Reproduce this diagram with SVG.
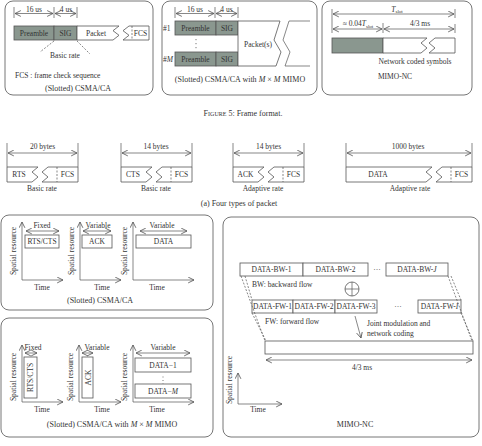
<svg xmlns="http://www.w3.org/2000/svg" width="482" height="446" viewBox="0 0 482 446">
<defs>
<marker id="ah" markerUnits="userSpaceOnUse" markerWidth="7" markerHeight="7" refX="5" refY="2.5" orient="auto-start-reverse" viewBox="0 0 6 5">
<path d="M0,0 L5,2.5 L0,5" fill="none" stroke="#555" stroke-width="0.7"/>
</marker>
</defs>
<style>
text{font-family:"Liberation Serif","Times New Roman",serif;font-size:7.5px;fill:#333}
.c{text-anchor:middle}
.cap{font-size:8px}
.i{font-style:italic}
.panel{fill:#fff;stroke:#666;stroke-width:0.9}
.bx{fill:#fff;stroke:#555;stroke-width:0.8}
.gr{fill:#8a978f;stroke:#555;stroke-width:0.8}
.ln{fill:none;stroke:#555;stroke-width:0.7}
.ar{fill:none;stroke:#555;stroke-width:0.7;marker-end:url(#ah)}
.da{fill:none;stroke:#555;stroke-width:0.7;marker-start:url(#ah);marker-end:url(#ah)}
.dash{fill:none;stroke:#555;stroke-width:0.7;stroke-dasharray:2,1.5}
</style>
<rect width="482" height="446" fill="#fff"/>

<!-- Top panel 1 -->
<g id="panel-csma">
<rect class="panel" x="5" y="1" width="148" height="94" rx="8"/>
<g class="ln"><path d="M14,7V18M54,7V18M77,7V18"/></g>
<path class="da" d="M15,13.5H53"/><path class="da" d="M55,13.5H76"/>
<text class="c" x="34" y="12">16 us</text><text class="c" x="66" y="12">4 us</text>
<rect class="gr" x="14" y="26" width="40" height="14"/>
<rect class="gr" x="54" y="26" width="23" height="14"/>
<polygon class="bx" points="119,26 77,26 77,40 113,40 119,35.3 113,30.7"/>
<polygon class="bx" points="129,26 149,26 149,40 123,40 129,35.3 123,30.7"/>
<path class="dash" d="M132,26V40"/>
<text class="c" x="34" y="35.5">Preamble</text><text class="c" x="65.5" y="35.5">SIG</text>
<text class="c" x="96" y="35.5">Packet</text><text class="c" x="140.5" y="35.5">FCS</text>
<path class="dash" d="M54,41L40,52M77,41L90,54"/>
<text class="c" x="65" y="58">Basic rate</text>
<text x="15" y="78" font-size="9">FCS : frame check sequence</text>
<text class="c cap" x="78" y="90.5">(Slotted) CSMA/CA</text>
</g>

<!-- Top panel 2 -->
<g id="panel-mimo">
<rect class="panel" x="162" y="1" width="155" height="94" rx="8"/>
<g class="ln"><path d="M175,7V18M215,7V18M238,7V18"/></g>
<path class="da" d="M176,13.5H214"/><path class="da" d="M216,13.5H237"/>
<text class="c" x="195" y="12">16 us</text><text class="c" x="226.5" y="12">4 us</text>
<text x="163" y="31">#1</text>
<rect class="gr" x="175" y="21" width="41" height="14"/><rect class="gr" x="216" y="21" width="22" height="14"/>
<text class="c" x="195.5" y="30.5">Preamble</text><text class="c" x="227" y="30.5">SIG</text>
<path d="M196,39v1.2M196,43v1.2M196,47v1.2" stroke="#555" stroke-width="0.8"/>
<text x="163" y="62">#<tspan class="i">M</tspan></text>
<rect class="gr" x="175" y="52" width="41" height="14"/><rect class="gr" x="216" y="52" width="22" height="14"/>
<text class="c" x="195.5" y="61.5">Preamble</text><text class="c" x="227" y="61.5">SIG</text>
<polygon class="bx" points="280,21 238,21 238,66 276,66 281,52 274,40"/>
<path class="ln" d="M310,21H289L283,40L290,52L285,66H310"/>
<text class="c" x="258" y="47">Packet(s)</text>
<text class="c cap" x="240" y="82">(Slotted) CSMA/CA with <tspan class="i">M</tspan> × <tspan class="i">M</tspan> MIMO</text>
</g>

<!-- Top panel 3 -->
<g id="panel-mimonc-top">
<rect class="panel" x="322" y="1" width="150" height="94" rx="8"/>
<g class="ln"><path d="M332,9V33M383,23V33M455,9V18M455,24V33"/></g>
<path class="da" d="M333,14H454"/>
<path class="da" d="M333,29H382"/><path class="da" d="M384,29H454"/>
<text class="c" x="397" y="11.5"><tspan class="i">T</tspan><tspan font-size="5" dy="1.5">slot</tspan></text>
<text class="c" x="358" y="26">≈ 0.04<tspan class="i">T</tspan><tspan font-size="5" dy="1.5">slot</tspan></text>
<text class="c" x="420" y="26">4/3 ms</text>
<rect class="gr" x="332" y="38" width="51" height="15"/>
<polygon class="bx" points="427,38 383,38 383,53 421,53 427,48 421,43"/>
<polygon class="bx" points="435,38 455,38 455,53 429,53 435,48 429,43"/>
<text class="c" x="415" y="64">Network coded symbols</text>
<text class="c" x="395" y="78.5">MIMO-NC</text>
</g>

<text class="c cap" x="243" y="115.5">F<tspan font-size="6">IGURE</tspan> 5: Frame format.</text>

<!-- Packet types -->
<g id="pkt-rts">
<path class="ln" d="M7,143V167M78,143V167"/><path class="da" d="M8,153H77"/>
<text class="c" x="42.5" y="149">20 bytes</text>
<polygon class="bx" points="38,167 7,167 7,182 32,182 38,177 32,172"/>
<polygon class="bx" points="48,167 78,167 78,182 42,182 48,177 42,172"/>
<path class="dash" d="M57,167V182"/>
<text class="c" x="19" y="177">RTS</text><text class="c" x="67.5" y="177">FCS</text>
<text class="c" x="42" y="190.5">Basic rate</text>
</g>
<g id="pkt-cts">
<path class="ln" d="M121,143V167M192,143V167"/><path class="da" d="M122,153H191"/>
<text class="c" x="156" y="149">14 bytes</text>
<polygon class="bx" points="152,167 121,167 121,182 146,182 152,177 146,172"/>
<polygon class="bx" points="162,167 192,167 192,182 156,182 162,177 156,172"/>
<path class="dash" d="M171,167V182"/>
<text class="c" x="133" y="177">CTS</text><text class="c" x="181.5" y="177">FCS</text>
<text class="c" x="156" y="190.5">Basic rate</text>
</g>
<g id="pkt-ack">
<path class="ln" d="M233,143V167M304,143V167"/><path class="da" d="M234,153H303"/>
<text class="c" x="268.5" y="149">14 bytes</text>
<polygon class="bx" points="264,167 233,167 233,182 258,182 264,177 258,172"/>
<polygon class="bx" points="274,167 304,167 304,182 268,182 274,177 268,172"/>
<path class="dash" d="M283,167V182"/>
<text class="c" x="245.5" y="177">ACK</text><text class="c" x="293.5" y="177">FCS</text>
<text class="c" x="263" y="190.5">Adaptive rate</text>
</g>
<g id="pkt-data">
<path class="ln" d="M346,143V167M472,143V167"/><path class="da" d="M347,153H471"/>
<text class="c" x="408" y="149">1000 bytes</text>
<polygon class="bx" points="432,167 346,167 346,182 426,182 432,177 426,172"/>
<polygon class="bx" points="442,167 472,167 472,182 436,182 442,177 436,172"/>
<path class="dash" d="M451,167V182"/>
<text class="c" x="378" y="177">DATA</text><text class="c" x="461.5" y="177">FCS</text>
<text class="c" x="410" y="190.5">Adaptive rate</text>
</g>

<text class="c cap" x="239" y="205.5">(a)  Four types of packet</text>

<!-- Bottom-left panel 1 -->
<g id="res-csma">
<rect class="panel" x="1" y="215" width="212" height="95" rx="8"/>
<path class="ar" d="M22,280V222"/><path class="ar" d="M22,280H63"/>
<path class="ar" d="M80,280V222"/><path class="ar" d="M80,280H121"/>
<path class="ar" d="M133,280V222"/><path class="ar" d="M133,280H194"/>
<text class="c" transform="translate(16,251) rotate(-90)">Spatial resource</text>
<text class="c" transform="translate(74,251) rotate(-90)">Spatial resource</text>
<text class="c" transform="translate(127,251) rotate(-90)">Spatial resource</text>
<text class="c" x="42" y="227.5">Fixed</text><path class="da" d="M26,231H59"/>
<rect class="bx" x="25" y="235" width="34" height="13"/><text class="c" x="42" y="244">RTS/CTS</text>
<text class="c" x="98" y="227.5">Variable</text><path class="da" d="M83,231H111"/>
<rect class="bx" x="82" y="235" width="30" height="13"/><text class="c" x="97" y="244">ACK</text>
<text class="c" x="162" y="227.5">Variable</text><path class="da" d="M140,231H187"/>
<rect class="bx" x="136" y="235" width="55" height="13"/><text class="c" x="163.5" y="244">DATA</text>
<text class="c" x="42" y="290">Time</text><text class="c" x="102" y="290">Time</text><text class="c" x="157" y="290">Time</text>
<text class="c cap" x="100" y="302.5">(Slotted) CSMA/CA</text>
</g>

<!-- Bottom-left panel 2 -->
<g id="res-mimo">
<rect class="panel" x="1" y="318" width="212" height="119" rx="8"/>
<path class="ar" d="M22,402V345"/><path class="ar" d="M22,402H63"/>
<path class="ar" d="M79,402V345"/><path class="ar" d="M79,402H121"/>
<path class="ar" d="M133,402V345"/><path class="ar" d="M133,402H194"/>
<text class="c" transform="translate(16,377) rotate(-90)">Spatial resource</text>
<text class="c" transform="translate(73,377) rotate(-90)">Spatial resource</text>
<text class="c" transform="translate(127,377) rotate(-90)">Spatial resource</text>
<text class="c" x="33" y="349.5">Fixed</text><path class="da" d="M25,353H37"/>
<rect class="bx" x="24" y="357" width="13" height="41"/>
<text class="c" transform="translate(33,377.5) rotate(-90)">RTS/CTS</text>
<text class="c" x="97" y="349.5">Variable</text><path class="da" d="M82,353H93"/>
<rect class="bx" x="82" y="357" width="11" height="41"/>
<text class="c" transform="translate(90.5,377.5) rotate(-90)">ACK</text>
<text class="c" x="163" y="349.5">Variable</text><path class="da" d="M136,353H190"/>
<rect class="bx" x="135" y="358" width="56" height="14"/><text class="c" x="163" y="367.5">DATA−1</text>
<path d="M163,376.5v1M163,380v1M163,383.5v1" stroke="#555" stroke-width="0.8"/>
<rect class="bx" x="135" y="384" width="56" height="14"/><text class="c" x="163" y="393.5">DATA−<tspan class="i">M</tspan></text>
<text class="c" x="42" y="412">Time</text><text class="c" x="102" y="412">Time</text><text class="c" x="157" y="412">Time</text>
<text class="c cap" x="112" y="426.5">(Slotted) CSMA/CA with <tspan class="i">M</tspan> × <tspan class="i">M</tspan> MIMO</text>
</g>

<!-- MIMO-NC panel -->
<g id="res-mimonc">
<rect class="panel" x="223" y="217" width="256" height="220" rx="8"/>
<rect class="bx" x="240" y="263" width="63" height="13"/><text class="c" x="271.5" y="272">DATA-BW-1</text>
<rect class="bx" x="303" y="263" width="65" height="13"/><text class="c" x="335.5" y="272">DATA-BW-2</text>
<text class="c" x="377" y="272">···</text>
<rect class="bx" x="386" y="263" width="62" height="13"/><text class="c" x="417" y="272">DATA-BW-<tspan class="i">J</tspan></text>
<text x="252" y="287">BW: backward flow</text>
<circle cx="352" cy="289" r="7" class="bx"/><path class="ln" d="M345,289H359M352,282V296"/>
<rect class="bx" x="252" y="300" width="41" height="13"/><text class="c" x="272.5" y="309">DATA-FW-1</text>
<rect class="bx" x="293" y="300" width="42" height="13"/><text class="c" x="314" y="309">DATA-FW-2</text>
<rect class="bx" x="335" y="300" width="42" height="13"/><text class="c" x="356" y="309">DATA-FW-3</text>
<text class="c" x="398" y="309">···</text>
<rect class="bx" x="418" y="300" width="43" height="13"/><text class="c" x="439.5" y="309">DATA-FW-<tspan class="i">I</tspan></text>
<text x="265" y="324">FW: forward flow</text>
<path class="ar" d="M355,316L361,338"/>
<text x="367" y="326" font-size="8">Joint modulation and</text>
<text x="367" y="335.5" font-size="8">network coding</text>
<rect class="bx" x="265" y="341" width="208" height="13"/>
<path class="da" d="M266,360H472"/>
<text class="c" x="362" y="369.5">4/3 ms</text>
<path class="ar" d="M238,404V373"/><path class="ar" d="M238,404H282"/>
<text class="c" transform="translate(232,380) rotate(-90)">Spatial resource</text>
<text class="c" x="258" y="412">Time</text>
<text class="c cap" x="355" y="427">MIMO-NC</text>
</g>

<g id="connectors">
<path class="dash" d="M241,276L265,341M245,276L252,300M252,313L266,341"/>
<path class="dash" d="M448,276L472,341M451,276L461,300M461,313L473,341"/>
</g>
</svg>
